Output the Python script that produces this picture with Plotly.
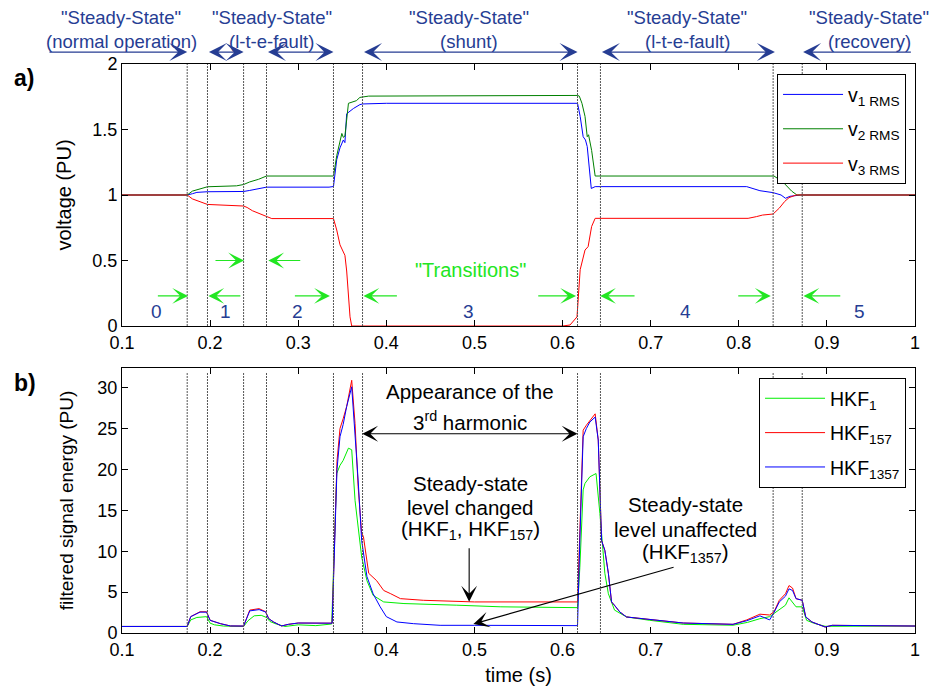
import plotly.graph_objects as go

# ---------------- data ----------------
X_TICKS = [0.1, 0.2, 0.3, 0.4, 0.5, 0.6, 0.7, 0.8, 0.9, 1.0]
X_TICK_TEXT = ["0.1", "0.2", "0.3", "0.4", "0.5", "0.6", "0.7", "0.8", "0.9", "1"]
V_TICKS = [0, 0.5, 1, 1.5, 2]
V_TICK_TEXT = ["0", "0.5", "1", "1.5", "2"]
E_TICKS = [0, 5, 10, 15, 20, 25, 30]

# panel a) RMS voltages
t_v1 = [0.1, 0.174, 0.18, 0.185, 0.197, 0.238, 0.245, 0.255, 0.264, 0.335, 0.338, 0.340, 0.3437, 0.3474,
        0.3512, 0.353, 0.355, 0.3626, 0.370, 0.373, 0.40, 0.617, 0.620, 0.6234, 0.626, 0.628, 0.6326, 0.637,
        0.809, 0.824, 0.839, 0.848, 0.853, 0.858, 0.87, 1.0]
v1 = [1.0, 1.0, 1.01, 1.02, 1.025, 1.027, 1.035, 1.05, 1.06, 1.06, 1.065, 1.065, 1.27, 1.36,
      1.42, 1.40, 1.62, 1.66, 1.69, 1.695, 1.70, 1.70, 1.60, 1.445, 1.42, 1.37, 1.05, 1.064,
      1.064, 1.033, 1.018, 1.0, 0.975, 0.99, 1.0, 1.0]

t_v2 = [0.1, 0.174, 0.18, 0.19, 0.197, 0.23, 0.238, 0.245, 0.255, 0.264, 0.340, 0.3437, 0.3474, 0.3495,
        0.3512, 0.353, 0.357, 0.3626, 0.366, 0.370, 0.380, 0.617, 0.619, 0.622, 0.6255, 0.628, 0.6295,
        0.633, 0.637, 0.84, 0.85, 0.86, 0.866, 1.0]
v2 = [1.0, 1.0, 1.03, 1.05, 1.063, 1.07, 1.08, 1.10, 1.12, 1.145, 1.145, 1.30, 1.42, 1.47,
      1.44, 1.45, 1.70, 1.71, 1.72, 1.745, 1.755, 1.76, 1.755, 1.70, 1.60, 1.445, 1.46,
      1.34, 1.145, 1.145, 1.10, 1.03, 1.0, 1.0]

t_v3 = [0.1, 0.174, 0.18, 0.19, 0.197, 0.238, 0.242, 0.248, 0.255, 0.264, 0.27, 0.340, 0.3437, 0.3474,
        0.349, 0.3512, 0.353, 0.355, 0.3588, 0.3607, 0.37, 0.60, 0.6085, 0.6164, 0.62, 0.6255, 0.629,
        0.633, 0.637, 0.8106, 0.82, 0.827, 0.839, 0.846, 0.852, 0.857, 0.865, 1.0]
v3 = [1.0, 1.0, 0.97, 0.945, 0.928, 0.916, 0.905, 0.88, 0.86, 0.84, 0.82, 0.82, 0.733, 0.62,
      0.59, 0.565, 0.54, 0.42, 0.07, 0.0, 0.0, 0.0, 0.008, 0.07, 0.43, 0.58, 0.606,
      0.76, 0.822, 0.822, 0.835, 0.847, 0.855, 0.9, 0.95, 0.98, 1.0, 1.0]

# panel b) filtered signal energies
t_h1 = [0.1, 0.174, 0.178, 0.185, 0.196, 0.2, 0.205, 0.215, 0.238, 0.243, 0.25, 0.258, 0.264, 0.268,
        0.275, 0.285, 0.3, 0.32, 0.338, 0.3437, 0.3474, 0.351, 0.357, 0.3607, 0.3645, 0.368, 0.372,
        0.378, 0.385, 0.397, 0.42, 0.48, 0.53, 0.617, 0.6196, 0.6234, 0.6255, 0.631, 0.638, 0.6424,
        0.648, 0.652, 0.659, 0.6726, 0.699, 0.737, 0.7935, 0.81, 0.824, 0.835, 0.846, 0.853, 0.857,
        0.865, 0.872, 0.877, 0.885, 0.898, 1.0]
h1 = [0.8, 0.8, 1.6, 1.9, 2.0, 1.2, 1.0, 0.85, 0.8, 1.5, 2.1, 2.16, 1.9, 1.4,
      1.1, 0.8, 1.0, 0.9, 1.1, 19.5, 20.5, 21.1, 22.6, 22.4, 16.2, 12.6, 9.3,
      6.4, 4.6, 3.8, 3.6, 3.4, 3.2, 3.1, 8.0, 17.5, 18.3, 19.1, 19.5, 14.6,
      7.3, 4.8, 2.8, 1.96, 1.55, 1.06, 0.95, 1.3, 1.75, 2.0, 2.8, 3.4, 4.3,
      3.2, 3.2, 1.55, 1.2, 0.82, 0.85]

t_h157 = [0.1, 0.174, 0.178, 0.1885, 0.196, 0.2, 0.2118, 0.223, 0.238, 0.245, 0.2556, 0.263, 0.2665,
          0.272, 0.281, 0.289, 0.3, 0.3385, 0.344, 0.3474, 0.351, 0.355, 0.3607, 0.3645, 0.368, 0.372,
          0.374, 0.38, 0.389, 0.397, 0.405, 0.416, 0.442, 0.5, 0.617, 0.6196, 0.6234, 0.627, 0.631,
          0.637, 0.6405, 0.6443, 0.648, 0.652, 0.6556, 0.659, 0.665, 0.6726, 0.699, 0.737, 0.7935,
          0.809, 0.824, 0.835, 0.84, 0.846, 0.853, 0.857, 0.861, 0.865, 0.872, 0.876, 0.883, 0.898,
          0.906, 1.0]
h157 = [0.8, 0.8, 2.0, 2.6, 2.6, 1.55, 1.14, 0.86, 0.85, 2.8, 2.98, 2.6, 1.75,
        1.35, 0.86, 1.06, 1.22, 1.2, 21.0, 25.0, 26.2, 27.7, 30.9, 25.6, 17.9, 12.2,
        11.8, 7.3, 6.4, 5.2, 4.8, 4.2, 4.0, 3.8, 3.8, 12.0, 24.8, 25.4, 26.0,
        26.8, 23.6, 11.3, 10.1, 7.3, 3.8, 3.4, 2.57, 1.96, 1.63, 1.22, 1.06,
        1.6, 2.3, 2.2, 2.6, 4.0, 4.8, 5.8, 5.5, 4.2, 4.0, 1.96, 1.35, 0.73,
        0.94, 0.85]

t_h1357 = [0.1, 0.174, 0.178, 0.1885, 0.196, 0.2, 0.2118, 0.223, 0.238, 0.245, 0.2556, 0.263, 0.2665,
           0.272, 0.281, 0.289, 0.3, 0.3385, 0.344, 0.3474, 0.351, 0.355, 0.3607, 0.3645, 0.368, 0.372,
           0.378, 0.385, 0.393, 0.4, 0.412, 0.431, 0.461, 0.5, 0.617, 0.6196, 0.6234, 0.627, 0.631,
           0.637, 0.6405, 0.6443, 0.648, 0.652, 0.6556, 0.659, 0.665, 0.6726, 0.699, 0.737, 0.7935,
           0.809, 0.824, 0.835, 0.84, 0.846, 0.853, 0.857, 0.861, 0.865, 0.872, 0.876, 0.883, 0.898,
           0.906, 1.0]
h1357 = [0.8, 0.8, 2.0, 2.55, 2.55, 1.55, 1.14, 0.86, 0.85, 2.7, 2.86, 2.57, 1.75,
         1.35, 0.86, 1.06, 1.22, 1.2, 20.0, 24.0, 25.5, 27.7, 30.1, 24.5, 18.7, 11.3,
         6.9, 4.8, 3.2, 2.0, 1.35, 1.14, 0.94, 0.94, 0.9, 11.3, 24.0, 25.0, 25.8,
         26.4, 23.6, 11.3, 10.1, 7.3, 3.8, 3.4, 2.57, 1.96, 1.63, 1.22, 1.06,
         1.5, 2.1, 1.6, 2.5, 3.8, 4.5, 5.4, 5.2, 4.2, 4.0, 1.96, 1.35, 0.73,
         0.94, 0.85]

# event boundaries (s)
boundaries = [0.174, 0.197, 0.238, 0.264, 0.340, 0.373, 0.617, 0.643, 0.839, 0.872]

# steady-state headings
ss_centers = [0.0989, 0.270, 0.494, 0.7413, 0.9479]
ss_sub = ["(normal operation)", "(l-t-e-fault)", "(shunt)", "(l-t-e-fault)", "(recovery)"]
# steady-state spans (start, end, heads)
ss_spans = [(0.016, 0.174, "end"), (0.197, 0.238, "both"), (0.264, 0.340, "both"),
            (0.373, 0.617, "both"), (0.643, 0.841, "both"), (0.997, 0.873, "end")]

# transition arrows (tail t, head t, level)
trans_arrows = [(0.139, 0.175, 0.23), (0.236, 0.198, 0.23), (0.2044, 0.2385, 0.50), (0.304, 0.266, 0.50),
                (0.2945, 0.336, 0.23), (0.4137, 0.374, 0.23), (0.5707, 0.6153, 0.23), (0.6834, 0.6426, 0.23),
                (0.7977, 0.8363, 0.23), (0.9169, 0.8734, 0.23)]
seg_labels = ["0", "1", "2", "3", "4", "5"]
seg_label_t = [0.139, 0.217, 0.299, 0.493, 0.739, 0.937]

# ---------------- style ----------------
FONT = "Liberation Sans, Arial, sans-serif"
NAVY = "#263d93"
GREEN_ANN = "#22e622"
X_MIN, X_MAX = 0.1, 1.0
PLOT_W = 933 - 122 - 18


def px(t):
    return (t - X_MIN) / (X_MAX - X_MIN)


fig = go.Figure()

fig.add_trace(go.Scatter(x=t_v1, y=v1, mode="lines", line=dict(color="#0000ff", width=1),
                         name="v<sub>1 RMS</sub>", xaxis="x", yaxis="y", legend="legend", legendgroup="a1"))
fig.add_trace(go.Scatter(x=t_v2, y=v2, mode="lines", line=dict(color="#008000", width=1),
                         name="v<sub>2 RMS</sub>", xaxis="x", yaxis="y", legend="legend", legendgroup="a2"))
fig.add_trace(go.Scatter(x=t_v3, y=v3, mode="lines", line=dict(color="#ff0000", width=1),
                         name="v<sub>3 RMS</sub>", xaxis="x", yaxis="y", legend="legend", legendgroup="a3"))

fig.add_trace(go.Scatter(x=t_h1, y=h1, mode="lines", line=dict(color="#00ee00", width=1),
                         name="HKF<sub>1</sub>", xaxis="x2", yaxis="y2", legend="legend2", legendgroup="b1"))
fig.add_trace(go.Scatter(x=t_h157, y=h157, mode="lines", line=dict(color="#ff0000", width=1),
                         name="HKF<sub>157</sub>", xaxis="x2", yaxis="y2", legend="legend2", legendgroup="b2"))
fig.add_trace(go.Scatter(x=t_h1357, y=h1357, mode="lines", line=dict(color="#0000ff", width=1),
                         name="HKF<sub>1357</sub>", xaxis="x2", yaxis="y2", legend="legend2", legendgroup="b3"))

axis_common = dict(showline=True, linecolor="black", linewidth=1, mirror="allticks",
                   ticks="inside", ticklen=6, tickcolor="black", showgrid=False, zeroline=False,
                   automargin=False, tickfont=dict(family=FONT, size=18, color="black"))

shapes = []
for b in boundaries:
    shapes.append(dict(type="line", xref="x", yref="y domain", x0=b, x1=b, y0=0, y1=1,
                       line=dict(color="#555555", width=1, dash="2px,1px")))
    shapes.append(dict(type="line", xref="x2", yref="y2 domain", x0=b, x1=b, y0=0, y1=0.985,
                       line=dict(color="#555555", width=1, dash="2px,1px")))

ann = []
# panel letters
ann.append(dict(text="<b>a)</b>", xref="paper", yref="paper", x=-0.1387, y=0.975, xanchor="left",
                yanchor="middle", showarrow=False, font=dict(family=FONT, size=23, color="black")))
ann.append(dict(text="<b>b)</b>", xref="paper", yref="paper", x=-0.1387, y=0.439, xanchor="left",
                yanchor="middle", showarrow=False, font=dict(family=FONT, size=23, color="black")))

# steady-state headings
for c, s in zip(ss_centers, ss_sub):
    ann.append(dict(text='"Steady-State"', xref="paper", yref="paper", x=px(c), y=1.081,
                    xanchor="center", yanchor="middle", showarrow=False,
                    font=dict(family=FONT, size=18.5, color=NAVY)))
    ann.append(dict(text=s, xref="paper", yref="paper", x=px(c), y=1.039,
                    xanchor="center", yanchor="middle", showarrow=False,
                    font=dict(family=FONT, size=18.5, color=NAVY)))
for t0, t1, kind in ss_spans:
    ann.append(dict(text="", xref="paper", yref="paper", x=px(t1), y=1.021,
                    axref="pixel", ayref="pixel", ax=(t0 - t1) / (X_MAX - X_MIN) * PLOT_W, ay=0,
                    showarrow=True, arrowhead=3, arrowsize=2.4, arrowwidth=1.25, arrowcolor=NAVY,
                    startarrowhead=3, startarrowsize=2.4,
                    arrowside="end+start" if kind == "both" else "end"))

# transition arrows
for ta, th, lv in trans_arrows:
    ann.append(dict(text="", xref="x", yref="y", x=th, y=lv, axref="x", ayref="y", ax=ta, ay=lv,
                    showarrow=True, arrowhead=3, arrowsize=2.4, arrowwidth=1.1, arrowcolor=GREEN_ANN))
ann.append(dict(text='"Transitions"', xref="x", yref="y", x=0.496, y=0.427, showarrow=False,
                font=dict(family=FONT, size=20, color=GREEN_ANN)))
for lab, tt in zip(seg_labels, seg_label_t):
    ann.append(dict(text=lab, xref="x", yref="y", x=tt, y=0.11, showarrow=False,
                    font=dict(family=FONT, size=19, color=NAVY)))

# panel b annotations
def btxt(text, t, v):
    return dict(text=text, xref="x2", yref="y2", x=t, y=v, showarrow=False, xanchor="center",
                yanchor="middle", font=dict(family=FONT, size=20.5, color="black"))

ann.append(btxt("Appearance of the", 0.495, 29.5))
ann.append(btxt("3<sup>rd</sup> harmonic", 0.495, 25.95))
ann.append(dict(text="", xref="x2", yref="y2", x=0.617, y=24.36, axref="x2", ayref="y2", ax=0.371,
                ay=24.36, showarrow=True, arrowhead=3, arrowsize=2.4, arrowwidth=1.1, arrowcolor="black",
                startarrowhead=3, startarrowsize=2.4, arrowside="end+start"))
ann.append(btxt("Steady-state", 0.495, 18.24))
ann.append(btxt("level changed", 0.495, 15.4))
ann.append(btxt("(HKF<sub>1</sub>, HKF<sub>157</sub>)", 0.495, 12.6))
ann.append(dict(text="", xref="x2", yref="y2", x=0.494, y=3.83, axref="x2", ayref="y2", ax=0.494,
                ay=10.56, showarrow=True, arrowhead=3, arrowsize=2.4, arrowwidth=1.1, arrowcolor="black"))
ann.append(btxt("Steady-state", 0.739, 15.67))
ann.append(btxt("level unaffected", 0.739, 12.6))
ann.append(btxt("(HKF<sub>1357</sub>)", 0.739, 9.8))
ann.append(dict(text="", xref="x2", yref="y2", x=0.4988, y=1.1, axref="x2", ayref="y2", ax=0.7277,
                ay=8.1, showarrow=True, arrowhead=3, arrowsize=2.4, arrowwidth=1.1, arrowcolor="black"))

legend_common = dict(bgcolor="white", bordercolor="black", borderwidth=1,
                     font=dict(family=FONT, size=19.5, color="black"), xanchor="right", yanchor="top",
                     itemwidth=60, tracegroupgap=6)

fig.update_layout(
    width=933, height=689,
    margin=dict(l=122, r=18, t=64, b=56),
    paper_bgcolor="white", plot_bgcolor="white",
    font=dict(family=FONT, size=18, color="black"),
    xaxis=dict(domain=[0, 1], range=[X_MIN, X_MAX], anchor="y", tickvals=X_TICKS, ticktext=X_TICK_TEXT,
               **axis_common),
    yaxis=dict(domain=[0.5395, 1], range=[0, 2], anchor="x", tickvals=V_TICKS, ticktext=V_TICK_TEXT,
               title=dict(text="voltage (PU)", font=dict(family=FONT, size=20), standoff=15),
               **axis_common),
    xaxis2=dict(domain=[0, 1], range=[X_MIN, X_MAX], anchor="y2", tickvals=X_TICKS, ticktext=X_TICK_TEXT,
                title=dict(text="time (s)", font=dict(family=FONT, size=20), standoff=9),
                **axis_common),
    yaxis2=dict(domain=[0, 0.4657], range=[0, 32.4], anchor="x2", tickvals=E_TICKS,
                title=dict(text="filtered signal energy (PU)", font=dict(family=FONT, size=19), standoff=18),
                **axis_common),
    legend=dict(x=0.9887, y=0.982, **legend_common),
    legend2=dict(x=0.9887, y=0.448, **legend_common),
    shapes=shapes,
    annotations=ann,
    showlegend=True,
)

fig.write_html("out.html", config={"displayModeBar": False},
               post_script="document.body.style.margin='0';")
